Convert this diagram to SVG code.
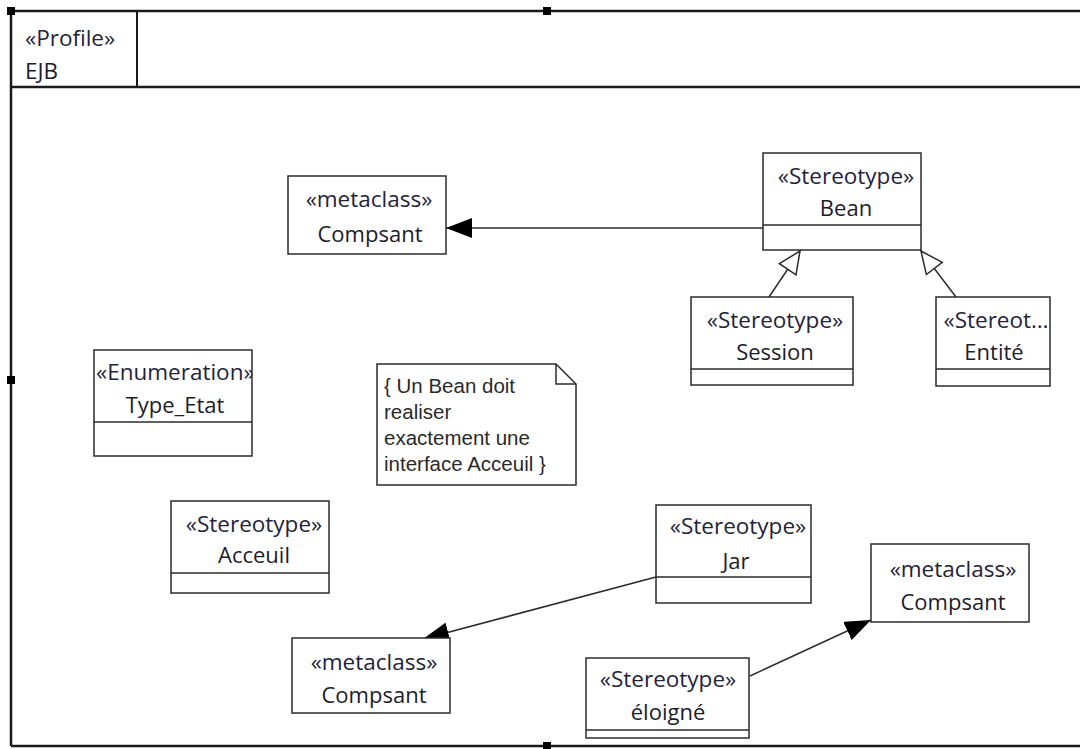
<svg xmlns="http://www.w3.org/2000/svg" width="1080" height="749" viewBox="0 0 1080 749">
  <defs>
    <style>
      .box { fill: #fff; stroke: #2b2b2b; stroke-width: 1.5; }
      .div { stroke: #2b2b2b; stroke-width: 1.5; }
      .st { font-family: "Open Sans", "Noto Sans", sans-serif; font-size: 22.5px; fill: #23233a; text-anchor: middle; }
      .nm { font-family: "Open Sans", "Noto Sans", sans-serif; font-size: 22px; fill: #1c1c2c; text-anchor: middle; }
      .note { font-family: "Liberation Sans", Arial, sans-serif; font-size: 20.5px; fill: #2a2a2a; }
      .frame { stroke: #1a1a1a; stroke-width: 2.5; fill: none; }
      .handle { fill: #000; }
      .link { stroke: #2b2b2b; stroke-width: 1.5; fill: none; }
    </style>
    <marker id="filled" viewBox="0 0 26 20" refX="26" refY="10" markerWidth="26" markerHeight="20" markerUnits="userSpaceOnUse" orient="auto">
      <path d="M0,0 L26,10 L0,20 Z" fill="#000"/>
    </marker>
    <marker id="hollow" viewBox="0 0 24 22" refX="23" refY="11" markerWidth="24" markerHeight="22" markerUnits="userSpaceOnUse" orient="auto">
      <path d="M1,1 L23,11 L1,21 Z" fill="#fff" stroke="#2b2b2b" stroke-width="1.5"/>
    </marker>
  </defs>

  <!-- profile frame -->
  <g id="profile-frame">
    <line class="frame" x1="11" y1="11" x2="1080" y2="11"/>
    <line class="frame" x1="11" y1="11" x2="11" y2="746"/>
    <line class="frame" x1="11" y1="746" x2="1080" y2="746"/>
    <line class="frame" x1="11" y1="87" x2="1080" y2="87"/>
    <rect x="11" y="11" width="126" height="76" fill="none" stroke="#1a1a1a" stroke-width="2"/>
    <text x="25" y="46" style="font-family:'Open Sans','Noto Sans',sans-serif;font-size:22.5px;fill:#23233a">«Profile»</text>
    <text x="25" y="79" style="font-family:'Open Sans','Noto Sans',sans-serif;font-size:22.5px;fill:#1c1c2c">EJB</text>
    <rect class="handle" x="7" y="7" width="8" height="8"/>
    <rect class="handle" x="543" y="7" width="8" height="8"/>
    <rect class="handle" x="7" y="376" width="8" height="8"/>
    <rect class="handle" x="543" y="742" width="8" height="8"/>
  </g>

  <!-- connectors -->
  <g id="connectors">
    <line class="link" x1="763" y1="228" x2="446" y2="228" marker-end="url(#filled)"/>
    <line class="link" x1="769" y1="297" x2="800" y2="251" marker-end="url(#hollow)"/>
    <line class="link" x1="956" y1="297" x2="921" y2="251" marker-end="url(#hollow)"/>
    <line class="link" x1="656" y1="577" x2="423" y2="639" marker-end="url(#filled)"/>
    <line class="link" x1="750" y1="676" x2="871" y2="620" marker-end="url(#filled)"/>
  </g>

  <g id="compsant-top">
    <rect class="box" x="288" y="176" width="158" height="78"/>
    <text class="st" x="369" y="207">«metaclass»</text>
    <text class="nm" x="370" y="242">Compsant</text>
  </g>

  <g id="bean">
    <rect class="box" x="763" y="153" width="158" height="97"/>
    <line class="div" x1="763" y1="225" x2="921" y2="225"/>
    <text class="st" x="846" y="184">«Stereotype»</text>
    <text class="nm" x="846" y="216">Bean</text>
  </g>

  <g id="session">
    <rect class="box" x="691" y="297" width="162" height="88"/>
    <line class="div" x1="691" y1="369" x2="853" y2="369"/>
    <text class="st" x="775" y="328">«Stereotype»</text>
    <text class="nm" x="775" y="360">Session</text>
  </g>

  <g id="entite">
    <rect class="box" x="936" y="297" width="114" height="89"/>
    <line class="div" x1="936" y1="369" x2="1050" y2="369"/>
    <text class="st" x="996" y="328">«Stereot…</text>
    <text class="nm" x="994" y="360">Entité</text>
  </g>

  <g id="type-etat">
    <clipPath id="clip-type-etat"><rect x="94" y="350" width="158" height="106"/></clipPath>
    <rect class="box" x="94" y="350" width="158" height="106"/>
    <line class="div" x1="94" y1="422" x2="252" y2="422"/>
    <text class="st" x="96" y="380" style="text-anchor:start" clip-path="url(#clip-type-etat)">«Enumeration»</text>
    <text class="nm" x="175" y="413">Type_Etat</text>
  </g>

  <g id="note">
    <path class="box" d="M377,364 L556,364 L576,384 L576,485 L377,485 Z"/>
    <path d="M556,364 L556,384 L576,384" fill="none" stroke="#2b2b2b" stroke-width="1.5"/>
    <text class="note" x="384" y="393">{ Un Bean doit</text>
    <text class="note" x="384" y="419">realiser</text>
    <text class="note" x="384" y="445">exactement une</text>
    <text class="note" x="384" y="471">interface Acceuil }</text>
  </g>

  <g id="acceuil">
    <rect class="box" x="171" y="501" width="158" height="92"/>
    <line class="div" x1="171" y1="573" x2="329" y2="573"/>
    <text class="st" x="254" y="532">«Stereotype»</text>
    <text class="nm" x="254" y="563">Acceuil</text>
  </g>

  <g id="jar">
    <rect class="box" x="656" y="505" width="155" height="98"/>
    <line class="div" x1="656" y1="577" x2="811" y2="577"/>
    <text class="st" x="738" y="534">«Stereotype»</text>
    <text class="nm" x="736" y="569">Jar</text>
  </g>

  <g id="compsant-bottom">
    <rect class="box" x="292" y="638" width="158" height="75"/>
    <text class="st" x="374" y="670">«metaclass»</text>
    <text class="nm" x="374" y="703">Compsant</text>
  </g>

  <g id="compsant-right">
    <rect class="box" x="871" y="544" width="158" height="78"/>
    <text class="st" x="953" y="577">«metaclass»</text>
    <text class="nm" x="953" y="610">Compsant</text>
  </g>

  <g id="eloigne">
    <rect class="box" x="586" y="658" width="163" height="80"/>
    <line class="div" x1="586" y1="730" x2="749" y2="730"/>
    <text class="st" x="668" y="687">«Stereotype»</text>
    <text class="nm" x="668" y="720">éloigné</text>
  </g>
</svg>
